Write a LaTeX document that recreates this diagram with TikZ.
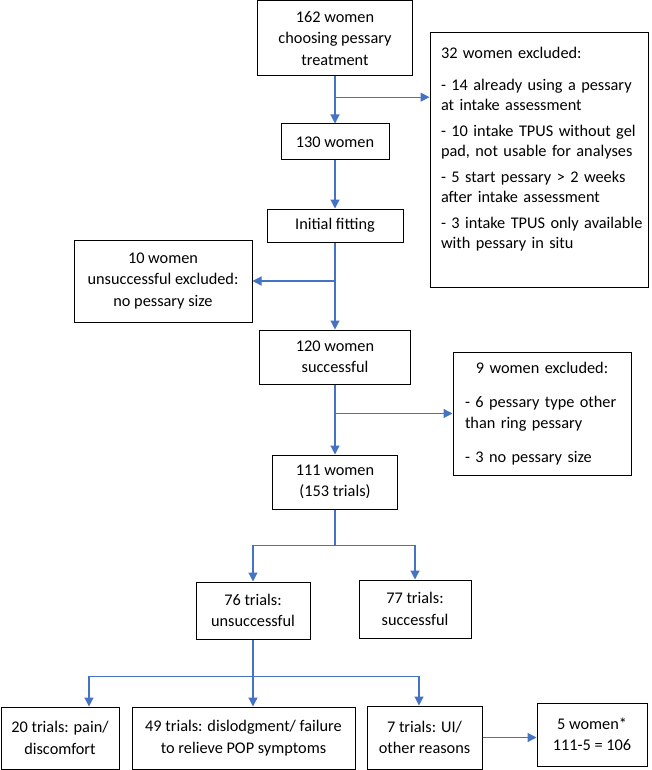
\documentclass[tikz,border=0pt]{standalone}
\usepackage{fontspec}
\setmainfont{Carlito}
\usepackage{xcolor}
\usetikzlibrary{arrows.meta,calc,positioning}
\definecolor{flowblue}{HTML}{4472C4}
\tikzset{>={Triangle[length=9pt,width=9pt]}}

\begin{document}
\begin{tikzpicture}[x=1pt,y=-1pt,
        box/.style={draw,line width=1pt,align=center,inner sep=0pt},
        flowline/.style={flowblue,line width=1.2pt},
        link/.style={flowline,->},
        font=\fontsize{16.3}{21.5}\selectfont]
        \useasboundingbox (0,0) rectangle (651,770);
        %%%% main column
        \node[box,minimum width=155,minimum height=75] (women162) at (335,38.5) {162 women\\choosing pessary\\treatment};
        \node[box,minimum width=108,minimum height=36] (women130) at (335,142) {130 women};
        \node[box,minimum width=136,minimum height=33] (fitting) at (335,225.5) {Initial fitting};
        \node[box,minimum width=151,minimum height=54] (women120) at (335,357) {120 women\\successful};
        \node[box,minimum width=125,minimum height=54] (women111) at (335,482) {111 women\\(153 trials)};
        %%%% exclusions
        \node[box,align=left,text width=196pt,inner xsep=11pt,minimum height=254,
              font=\fontsize{16.3}{20}\selectfont] (excl32) at (539,160)
              {32 women excluded:\\[12pt]
               \mbox{- 14 already using a pessary}\\at intake assessment\\[6pt]
               \mbox{- 10 intake TPUS without gel}\\\mbox{pad, not usable for analyses}\\[6pt]
               \mbox{- 5 start pessary > 2 weeks}\\after intake assessment\\[6pt]
               \mbox{- 3 intake TPUS only available}\\with pessary in situ\\[4pt]\mbox{}};
        \node[box,minimum width=178,minimum height=82] (unsucc10) at (163,281) {10 women\\unsuccessful excluded:\\no pessary size};
        \node[box,align=left,text width=154pt,inner xsep=12pt,minimum height=123] (excl9) at (542,413.5)
              {\makebox[\linewidth]{9 women excluded:}\\[12pt]
               - 6 pessary type other\\than ring pessary\\[12pt]
               - 3 no pessary size};
        %%%% trials
        \node[box,minimum width=114,minimum height=57] (trials76) at (253,610.5) {76 trials:\\unsuccessful};
        \node[box,minimum width=112,minimum height=58] (trials77) at (415,609) {77 trials:\\successful};
        \node[box,minimum width=118,minimum height=62] (pain20) at (60,738) {20 trials: pain/\\discomfort};
        \node[box,minimum width=223,minimum height=62] (dislodge49) at (243.5,738) {49 trials: dislodgment/ failure\\to relieve POP symptoms};
        \node[box,minimum width=115,minimum height=63] (other7) at (424.5,737.5) {7 trials: UI/\\other reasons};
        \node[box,minimum width=110,minimum height=63] (women5) at (592,734.5) {5 women*\\111-5 = 106};
        %%%% arrows
        \coordinate (j1) at ($(women162.south)!0.44!(women130.north)$);
        \draw[link] (women162.south) -- (women130.north);
        \draw[link] (j1) -- (j1 -| excl32.west);
        \draw[link] (women130.south) -- (fitting.north);
        \draw[link] (fitting.south) -- (women120.north);
        \draw[link] (fitting.south |- unsucc10.east) -- (unsucc10.east);
        \draw[link] (women120.south) -- (women111.north);
        \draw[link] (women120.south |- excl9.west) -- (excl9.west);
        %%%%
        \draw[flowline] (women111.south) -- ++(0,36) coordinate (s1);
        \draw[link] (s1) -| (trials76.north);
        \draw[link] (s1) -| (trials77.north);
        \draw[flowline] (trials76.south) -- ++(0,37) coordinate (s2);
        \draw[link] (s2) -| ([xshift=29pt]pain20.north);
        \draw[link] (s2) -- (s2 |- dislodge49.north);
        \draw[link] (s2) -| ([xshift=-5.5pt]other7.north);
        \draw[link] (other7.east) -- (other7.east -| women5.west);
\end{tikzpicture}
\end{document}
